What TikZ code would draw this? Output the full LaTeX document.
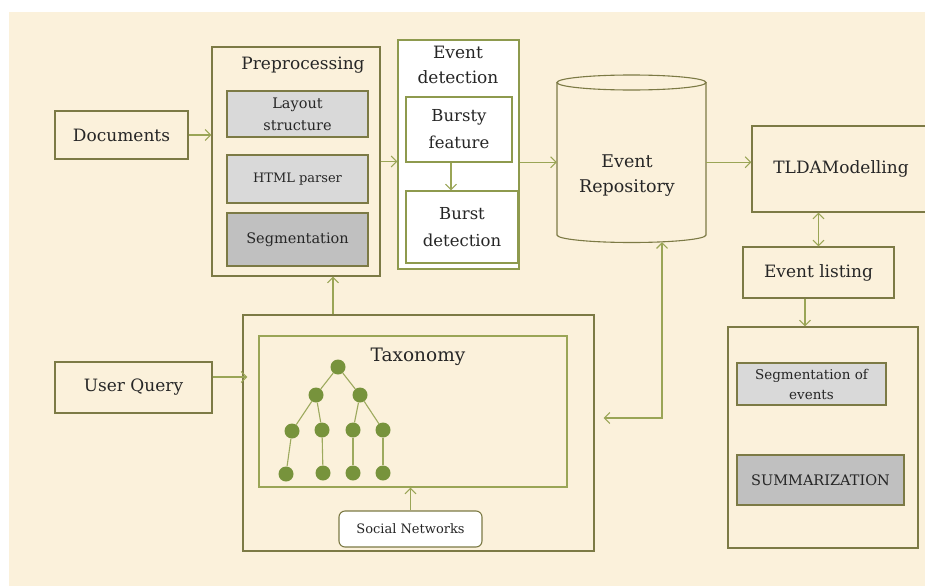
\documentclass[tikz,border=0pt]{standalone}
\usepackage{fontspec}
\setmainfont{DejaVu Serif}
\usetikzlibrary{arrows.meta}
\definecolor{parch}{HTML}{FBF1DB}
\definecolor{boxcol}{HTML}{7C7A45}
\definecolor{midcol}{HTML}{8E9A4E}
\definecolor{arrcol}{HTML}{9AA556}
\definecolor{treecol}{HTML}{77933C}
\definecolor{treeedge}{HTML}{9DAA5E}
\definecolor{lgray}{HTML}{D9D9D9}
\definecolor{dgray}{HTML}{C0C0C0}
\newcommand{\fs}[1]{\fontsize{#1}{#1}\selectfont}
\tikzset{
  box/.style={draw=boxcol, line width=1.1pt, inner sep=0pt, align=center, text=black!85},
  lbox/.style={box, fill=lgray},
  dbox/.style={box, fill=dgray},
  wbox/.style={box, draw=midcol, fill=white},
  arr/.style={draw=arrcol, line width=1.1pt, -{Straight Barb[length=5.5pt,width=11pt]}},
  dbl/.style={draw=arrcol, line width=1.1pt, {Straight Barb[length=5.5pt,width=11pt]}-{Straight Barb[length=5.5pt,width=11pt]}},
  tn/.style={circle, fill=treecol, minimum size=15pt, inner sep=0pt},
  te/.style={draw=treeedge, line width=1.1pt},
  lbl/.style={align=center, text=black!85, inner sep=0pt}
}
\begin{document}
\begin{tikzpicture}[x=1pt,y=-1pt]
\useasboundingbox (0,0) rectangle (925,586);
\clip (0,0) rectangle (925,586);
\fill[white] (0,0) rectangle (925,586);
\fill[parch] (9,12) rectangle (925,586);

% left inputs
\node[box, minimum width=133pt, minimum height=48pt, font=\fs{17}] (doc) at (121.5,135) {Documents};
\node[box, minimum width=157pt, minimum height=51pt, font=\fs{17}] (uq) at (133.5,387.5) {User Query};

% preprocessing
\node[box, minimum width=168pt, minimum height=229pt] (pre) at (296,161.5) {};
\node[lbl, font=\fs{17}] (pret) at (303,65) {Preprocessing};
\node[lbox, minimum width=141pt, minimum height=46pt, font=\fontsize{14.5}{22}\selectfont] (lay) at (297.5,114) {Layout\\structure};
\node[lbox, minimum width=141pt, minimum height=48pt, font=\fs{13}] (html) at (297.5,179) {HTML parser};
\node[dbox, minimum width=141pt, minimum height=53pt, font=\fs{14.5}] (seg) at (297.5,239.5) {Segmentation};

% event detection
\node[wbox, minimum width=121pt, minimum height=229pt] (evd) at (458.5,154.5) {};
\node[lbl, font=\fontsize{17}{25}\selectfont] (evdt) at (458,64.5) {Event\\detection};
\node[wbox, minimum width=106pt, minimum height=65pt, font=\fontsize{16.5}{27}\selectfont] (bursty) at (459,129.5) {Bursty\\feature};
\node[wbox, minimum width=112pt, minimum height=72pt, font=\fontsize{16.5}{27}\selectfont] (burst) at (462,227) {Burst\\detection};

% event repository (cylinder)
\node[minimum width=149pt, minimum height=159.5pt, inner sep=0pt] (repo) at (631.5,162.25) {};
\draw[boxcol, line width=1.1pt, fill=parch] (557,82.5) -- (557,235)
  arc[start angle=180, end angle=360, x radius=74.5pt, y radius=7.5pt] -- (706,82.5);
\draw[boxcol, line width=1.1pt, fill=parch] (631.5,82.5) ellipse [x radius=74.5pt, y radius=7.5pt];
\node[lbl, font=\fontsize{17.5}{25}\selectfont] (repot) at (627,175.5) {Event\\Repository};

% right column
\node[box, minimum width=178pt, minimum height=86pt, font=\fs{17}] (tlda) at (841,169) {TLDAModelling};
\node[box, minimum width=151pt, minimum height=51pt, font=\fs{17}] (evl) at (818.5,272.5) {Event listing};
\node[box, minimum width=190pt, minimum height=221pt] (outr) at (823,437.5) {};
\node[lbox, minimum width=149pt, minimum height=42pt, font=\fontsize{13.5}{20}\selectfont] (segev) at (811.5,384) {Segmentation of\\events};
\node[dbox, minimum width=167pt, minimum height=50pt, font=\fs{14.5}] (summ) at (820.5,480) {SUMMARIZATION};

% taxonomy
\node[box, minimum width=351pt, minimum height=236pt] (taxo) at (418.5,433) {};
\node[box, draw=arrcol, minimum width=308pt, minimum height=151pt] (inner) at (413,411.5) {};
\node[lbl, font=\fs{18.5}] (taxt) at (418,357) {Taxonomy};
\node[wbox, draw=boxcol, rounded corners=6pt, minimum width=143pt, minimum height=36pt, font=\fs{13}] (soc) at (410.5,529) {Social Networks};

% tree
\node[tn] (t1) at (338,367) {};
\node[tn] (t2) at (316,395) {};
\node[tn] (t3) at (360,395) {};
\node[tn] (t4) at (292,431) {};
\node[tn] (t5) at (322,430) {};
\node[tn] (t6) at (353,430) {};
\node[tn] (t7) at (383,430) {};
\node[tn] (t8) at (286,474) {};
\node[tn] (t9) at (323,473) {};
\node[tn] (t10) at (353,473) {};
\node[tn] (t11) at (383,473) {};
\draw[te] (t1) -- (t2); \draw[te] (t1) -- (t3);
\draw[te] (t2) -- (t4); \draw[te] (t2) -- (t5);
\draw[te] (t3) -- (t6); \draw[te] (t3) -- (t7);
\draw[te] (t4) -- (t8); \draw[te] (t5) -- (t9);
\draw[te] (t6) -- (t10); \draw[te] (t7) -- (t11);

% connectors
\draw[arr] (doc.east) -- (doc.east -| pre.west);
\draw[arr] (pre.east) -- (pre.east -| evd.west);
\draw[arr] ([xshift=-8pt]bursty.south) -- ([xshift=-8pt]bursty.south |- burst.north);
\draw[arr] (evd.east |- repo.west) -- (repo.west);
\draw[arr] (repo.east) -- (repo.east -| tlda.west);
\draw[dbl] (evl.north) -- (evl.north |- tlda.south);
\draw[arr] ([xshift=-13.5pt]evl.south) -- ([xshift=-13.5pt]evl.south |- outr.north);
\draw[arr] ([yshift=10.5pt]uq.east) -- ([xshift=5pt,yshift=10.5pt]uq.east -| taxo.west);
\draw[arr] ([xshift=37pt]pre.south |- taxo.north) -- ([xshift=37pt]pre.south);
\draw[arr] (soc.north) -- (soc.north |- inner.south);
\draw[dbl] ([xshift=30.5pt]repo.south) |- ([xshift=9pt,yshift=15pt]taxo.east);
\end{tikzpicture}
\end{document}
